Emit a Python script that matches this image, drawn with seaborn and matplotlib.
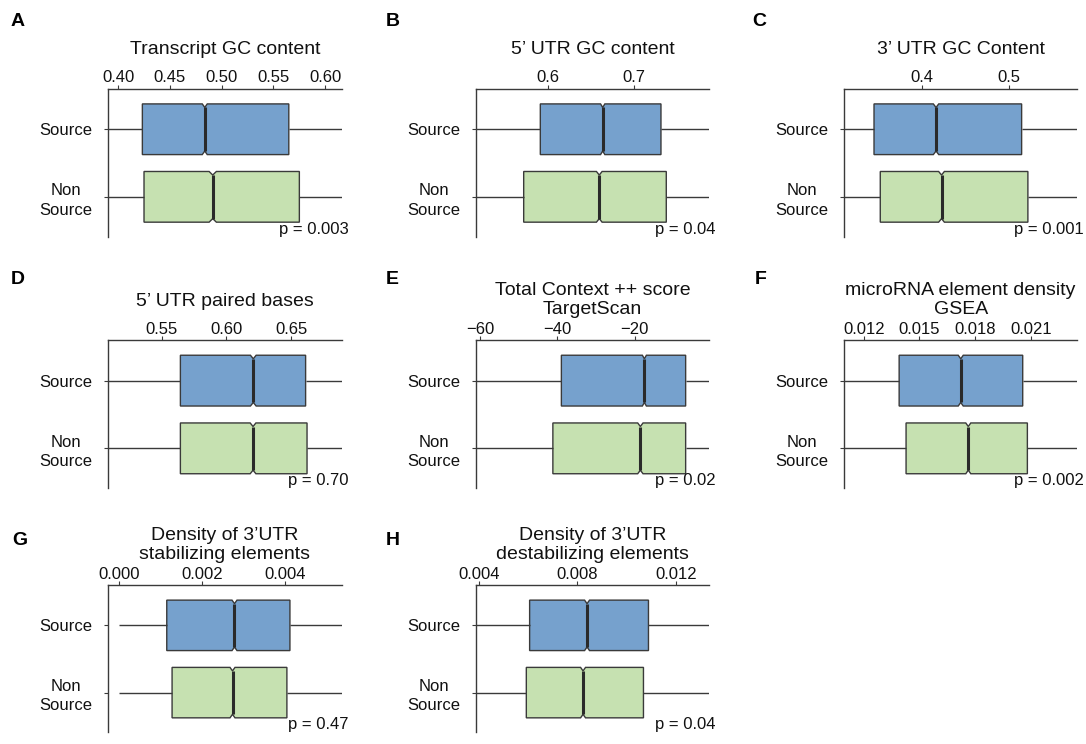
import numpy as np
import pandas as pd
import matplotlib
matplotlib.use("Agg")
import matplotlib.pyplot as plt
import seaborn as sns

# ---------------- data ----------------
groups = ["Source", "Non\nSource"]
panel_letters = ["A", "B", "C", "D", "E", "F", "G", "H"]
titles = [
    "Transcript GC content",
    "5\u2019 UTR GC content",
    "3\u2019 UTR GC Content",
    "5\u2019 UTR paired bases",
    "Total Context ++ score\nTargetScan",
    "microRNA element density\nGSEA",
    "Density of 3\u2019UTR\nstabilizing elements",
    "Density of 3\u2019UTR\ndestabilizing elements",
]
p_labels = ["p = 0.003", "p = 0.04", "p = 0.001", "p = 0.70",
            "p = 0.02", "p = 0.002", "p = 0.47", "p = 0.04"]

# (whisker low, Q1, median, Q3, whisker high)
source_stats = [
    [0.35, 0.4235, 0.4838, 0.5650, 0.66],
    [0.45, 0.5907, 0.6635, 0.7315, 0.85],
    [0.25, 0.3452, 0.4165, 0.5149, 0.65],
    [0.45, 0.5644, 0.6207, 0.6611, 0.75],
    [-80.0, -38.97, -17.49, -6.81, 0.0],
    [0.008, 0.01391, 0.01723, 0.02057, 0.027],
    [0.0, 0.001149, 0.002779, 0.004113, 0.008],
    [0.002, 0.006065, 0.008393, 0.010883, 0.016],
]
nonsource_stats = [
    [0.35, 0.4251, 0.4915, 0.5752, 0.66],
    [0.45, 0.5713, 0.6595, 0.7377, 0.85],
    [0.25, 0.3524, 0.4228, 0.5221, 0.65],
    [0.45, 0.5644, 0.6205, 0.6622, 0.75],
    [-80.0, -41.17, -18.53, -6.81, 0.0],
    [0.008, 0.014283, 0.017636, 0.020821, 0.027],
    [0.0, 0.001277, 0.002731, 0.004040, 0.008],
    [0.002, 0.005931, 0.008231, 0.010680, 0.016],
]
# notch half-widths (confidence interval of the median)
source_notch = [0.0024, 0.0025, 0.0031, 0.0022, 0.52, 0.000135, 0.00006, 0.0001]
nonsource_notch = [0.0035, 0.0033, 0.0033, 0.0022, 0.69, 0.000135, 0.00006, 0.0001]

xlims = [
    (0.3903, 0.6164), (0.5153, 0.7879), (0.3107, 0.5789), (0.5085, 0.6892),
    (-61.14, -0.69), (0.010938, 0.023512), (-0.000265, 0.005366), (0.003879, 0.013349),
]
xticks = [
    [0.40, 0.45, 0.50, 0.55, 0.60], [0.6, 0.7], [0.4, 0.5], [0.55, 0.60, 0.65],
    [-60, -40, -20], [0.012, 0.015, 0.018, 0.021], [0.000, 0.002, 0.004],
    [0.004, 0.008, 0.012],
]
tick_fmts = ["{:.2f}", "{:.1f}", "{:.1f}", "{:.2f}", "{:.0f}", "{:.3f}", "{:.3f}", "{:.3f}"]

# ---------------- style ----------------
BLUE = "#76A1CD"
GREEN = "#C6E1B1"
EDGE = "#3a3a3a"
TEXT = "#111111"
NOTCH_DEPTH = 0.07  # fraction of the box height removed at the median on each side

sns.set_theme(style="white")
plt.rcParams["font.family"] = ["Liberation Sans", "DejaVu Sans"]
plt.rcParams["axes.unicode_minus"] = True

fig = plt.figure(figsize=(10.86, 7.44), dpi=100)
W, H = 1086.0, 744.0

# axes boxes in pixels: left, top, right, bottom
col_x = [(108, 342), (475.7, 709.3), (844, 1077.3)]
row_y = [(88.7, 236.7), (340, 488.3), (585, 732.3)]
letter_pos = [(11, 26), (386, 26), (752, 26),
              (11, 284), (386, 284), (755, 284),
              (12, 545), (386, 545)]


def make_values(stats, notch):
    lo, q1, med, q3, hi = stats
    iqr = q3 - q1
    n = (1.57 * iqr / notch) ** 2
    k = int(np.ceil(max(n - 2, 15) / 3.0))
    return np.repeat(np.array(stats, dtype=float), [1, k, k, k, 1])


for i in range(8):
    r, c = divmod(i, 3)
    x0, x1 = col_x[c]
    y0, y1 = row_y[r]
    ax = fig.add_axes([x0 / W, 1 - y1 / H, (x1 - x0) / W, (y1 - y0) / H])

    vals_s = make_values(source_stats[i], source_notch[i])
    vals_n = make_values(nonsource_stats[i], nonsource_notch[i])
    df = pd.DataFrame({
        "value": np.concatenate([vals_s, vals_n]),
        "group": [groups[0]] * len(vals_s) + [groups[1]] * len(vals_n),
    })

    sns.boxplot(
        data=df, x="value", y="group", hue="group", order=groups, hue_order=groups,
        palette=[BLUE, GREEN], saturation=1, legend=False, notch=True, whis=np.inf,
        width=0.75, showcaps=False, showfliers=False, linecolor=EDGE, linewidth=1.0,
        medianprops=dict(linewidth=2.2, color="#2a2a2a"),
        whiskerprops=dict(linewidth=1.0, color=EDGE),
        ax=ax,
    )

    # make the notch shallow as in the reference
    for patch in ax.patches:
        path = patch.get_path()
        v = path.vertices
        if len(v) >= 11:
            pos = (v[:, 1].max() + v[:, 1].min()) / 2
            half = (v[:, 1].max() - v[:, 1].min()) / 2
            for j in (3, 8):
                sgn = np.sign(v[j, 1] - pos)
                v[j, 1] = pos + sgn * half * (1 - 2 * NOTCH_DEPTH)
    for line in ax.lines:
        yd = np.asarray(line.get_ydata(), dtype=float)
        xd = np.asarray(line.get_xdata(), dtype=float)
        if len(yd) == 2 and xd[0] == xd[1] and yd[0] != yd[1]:
            pos = yd.mean()
            half = 0.75 / 2
            line.set_ydata([pos - half * (1 - 2 * NOTCH_DEPTH), pos + half * (1 - 2 * NOTCH_DEPTH)])

    ax.set_xlim(*xlims[i])
    ax.set_ylim(1.59, -0.6)
    ax.set_xlabel("")
    ax.set_ylabel("")
    ax.set_xticks(xticks[i])
    ax.set_xticklabels([tick_fmts[i].format(t).replace("-", "\u2212") for t in xticks[i]])
    ax.xaxis.tick_top()
    ax.tick_params(axis="x", which="both", top=True, bottom=False, length=3, width=0.8,
                   pad=-0.5, labelsize=12, colors=EDGE, labelcolor=TEXT)
    ax.tick_params(axis="y", left=True, length=3, width=0.8, pad=8, labelsize=12,
                   colors=EDGE, labelcolor=TEXT)
    for lbl in ax.get_yticklabels():
        lbl.set_multialignment("center")
        lbl.set_linespacing(1.35)
    for side in ("right", "bottom"):
        ax.spines[side].set_visible(False)
    for side in ("left", "top"):
        ax.spines[side].set_visible(True)
        ax.spines[side].set_color(EDGE)
        ax.spines[side].set_linewidth(1.0)
    ax.grid(False)
    ax.set_facecolor("white")

    if "\n" in titles[i]:
        # baseline of the last line sits ~27 px above the axis line
        ax.annotate(titles[i], xy=(0.5, 1), xycoords="axes fraction",
                    xytext=(0, 26 * 0.72), textcoords="offset points",
                    ha="center", va="baseline", fontsize=14, color=TEXT,
                    linespacing=1.15, annotation_clip=False)
    else:
        ax.annotate(titles[i], xy=(0.5, 1), xycoords="axes fraction",
                    xytext=(0, 34.5 * 0.72), textcoords="offset points",
                    ha="center", va="baseline", fontsize=14, color=TEXT,
                    annotation_clip=False)

    ax.annotate(p_labels[i], xy=(1, 0), xycoords="axes fraction",
                xytext=(6.3 * 0.72, 3.0 * 0.72), textcoords="offset points",
                ha="right", va="baseline", fontsize=12, color=TEXT,
                annotation_clip=False)

    lx, ly = letter_pos[i]
    fig.text(lx / W, 1 - ly / H, panel_letters[i], fontsize=14, fontweight="bold",
             ha="left", va="baseline", color="#000000")

fig.savefig("out.png", dpi=100, facecolor="white")
